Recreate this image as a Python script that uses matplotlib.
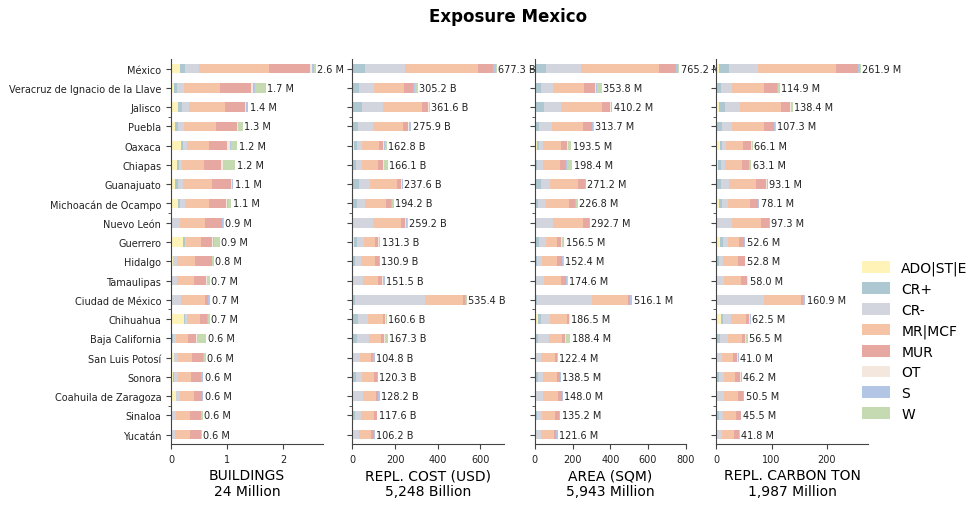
import matplotlib
matplotlib.use("Agg")
import matplotlib.pyplot as plt
import numpy as np
from matplotlib.patches import Patch

states = ["México", "Veracruz de Ignacio de la Llave", "Jalisco", "Puebla", "Oaxaca",
          "Chiapas", "Guanajuato", "Michoacán de Ocampo", "Nuevo León", "Guerrero",
          "Hidalgo", "Tamaulipas", "Ciudad de México", "Chihuahua", "Baja California",
          "San Luis Potosí", "Sonora", "Coahuila de Zaragoza", "Sinaloa", "Yucatán"]

categories = ["ADO|ST|E", "CR+", "CR-", "MR|MCF", "MUR", "OT", "S", "W"]
colors = ["#fff3b8", "#aec8d2", "#d2d5dd", "#f5c3a6", "#e8a8a2", "#f4e8de", "#b3c6e6", "#c6dab2"]

# millions of buildings per state, one list per typology
buildings = {
    "ADO|ST|E": [0.16, 0.05, 0.125, 0.07, 0.18, 0.11, 0.07, 0.125, 0.0, 0.21,
                 0.035, 0.0, 0.0, 0.23, 0.02, 0.055, 0.04, 0.09, 0.005, 0.0],
    "CR+": [0.09, 0.05, 0.07, 0.055, 0.03, 0.035, 0.055, 0.035, 0.02, 0.03,
            0.005, 0.01, 0.005, 0.025, 0.02, 0.005, 0.02, 0.0, 0.02, 0.005],
    "CR-": [0.25, 0.125, 0.125, 0.11, 0.08, 0.055, 0.09, 0.09, 0.14, 0.035,
            0.07, 0.095, 0.17, 0.03, 0.055, 0.07, 0.065, 0.07, 0.055, 0.07],
    "MR|MCF": [1.25, 0.64, 0.64, 0.57, 0.39, 0.39, 0.52, 0.43, 0.45, 0.26,
               0.32, 0.30, 0.43, 0.23, 0.21, 0.25, 0.23, 0.25, 0.25, 0.27],
    "MUR": [0.73, 0.55, 0.36, 0.36, 0.32, 0.30, 0.34, 0.30, 0.30, 0.20,
            0.29, 0.21, 0.055, 0.125, 0.14, 0.18, 0.18, 0.14, 0.20, 0.18],
    "OT": [0.02, 0.035, 0.02, 0.02, 0.05, 0.035, 0.01, 0.02, 0.005, 0.02,
           0.005, 0.02, 0.005, 0.005, 0.02, 0.005, 0.005, 0.005, 0.005, 0.005],
    "S": [0.05, 0.035, 0.03, 0.01, 0.02, 0.005, 0.025, 0.01, 0.005, 0.005,
          0.0, 0.0, 0.035, 0.005, 0.0, 0.02, 0.035, 0.02, 0.005, 0.0],
    "W": [0.02, 0.2, 0.005, 0.08, 0.11, 0.21, 0.0, 0.06, 0.015, 0.105,
          0.035, 0.055, 0.0, 0.035, 0.16, 0.035, 0.0, 0.0, 0.02, 0.02],
}
buildings_total = [2.6, 1.7, 1.4, 1.3, 1.2, 1.2, 1.1, 1.1, 0.9, 0.9,
                   0.8, 0.7, 0.7, 0.7, 0.6, 0.6, 0.6, 0.6, 0.6, 0.6]

# replacement cost, billions of USD
cost = {
    "ADO|ST|E": [4, 0.5, 0.5, 0.5, 6, 0.5, 0.5, 0.5, 0, 6,
                 0, 0, 0, 4.6, 0.5, 0, 0, 0, 0, 0],
    "CR+": [55, 32, 46, 26, 15, 17, 31, 21.5, 1, 15,
            12, 1, 12.2, 21.5, 21.5, 1, 17, 0.5, 12, 1],
    "CR-": [187, 67, 95, 70.7, 24, 27.7, 51, 37, 96, 33.2,
            28, 49, 330, 47, 55, 35, 27.7, 49, 27.7, 30],
    "MR|MCF": [345, 142, 186, 138, 78, 75, 124.5, 97.5, 129, 54,
               65, 72.5, 175, 72, 58, 49.8, 56, 60, 61, 55.6],
    "MUR": [66, 41.5, 28.5, 27.7, 23, 23, 23, 23, 23, 14,
            18.5, 18.5, 9.5, 9, 14, 9, 14, 9, 14, 14],
    "OT": [2, 3, 1, 1, 4.6, 3, 1, 1, 1, 3,
           1, 1, 0.5, 4.6, 4.6, 0.5, 0.5, 1, 0.5, 0.5],
    "S": [14, 6, 4.6, 9, 1.5, 3, 6, 6, 4.6, 1.5,
          4.6, 9, 7.7, 1, 1.5, 9, 4.6, 9, 1.5, 4.6],
    "W": [4.3, 14, 1, 3, 10.8, 17, 0.5, 7.7, 4.6, 4.6,
          1, 0.5, 0.5, 1, 12.3, 0.5, 0.5, 0, 1, 0.5],
}
cost_total = [677.3, 305.2, 361.6, 275.9, 162.8, 166.1, 237.6, 194.2, 259.2, 131.3,
              130.9, 151.5, 535.4, 160.6, 167.3, 104.8, 120.3, 128.2, 117.6, 106.2]

# built area, millions of square metres
area = {
    "ADO|ST|E": [7, 0.5, 7, 1, 10, 1, 1, 1, 0, 9,
                 0, 0, 0, 17.7, 0, 0, 0, 1, 0, 0],
    "CR+": [51, 33.6, 42.5, 23, 10.6, 12, 33.6, 17.7, 1, 14,
            12, 1, 12, 16, 17.7, 0.5, 17.7, 0.5, 12, 1],
    "CR-": [186, 64, 90, 69, 21, 32, 48, 42.5, 97, 37,
            26.5, 49.6, 290.4, 48, 58, 33.6, 26.5, 44, 26.5, 33.6],
    "MR|MCF": [414.6, 165, 219, 163.7, 97.9, 88.9, 144.6, 121.6, 155.7, 58.9,
               80, 86, 191, 88.7, 71.2, 70.7, 73.3, 78.5, 69, 65.9],
    "MUR": [90, 58, 42.5, 48, 32, 32, 37, 32, 32, 21,
            26.5, 26.5, 10.6, 10.6, 16, 10.6, 16, 21, 21, 10.6],
    "OT": [1, 5, 1, 1, 5, 1, 1, 1, 1, 5,
           1, 5, 1, 3.5, 3.5, 1, 1, 1, 1, 1],
    "S": [10.6, 1, 7, 3, 1, 5, 5, 2, 5, 1,
          1.5, 1.5, 10.6, 1, 1, 1, 3.5, 2, 5, 9],
    "W": [5, 26.5, 1, 5, 16, 26.5, 1, 9, 1, 10.6,
          5, 5, 0.5, 1, 21, 5, 0.5, 0, 0.5, 0.5],
}
area_total = [765.2, 353.8, 410.2, 313.7, 193.5, 198.4, 271.2, 226.8, 292.7, 156.5,
              152.4, 174.6, 516.1, 186.5, 188.4, 122.4, 138.5, 148.0, 135.2, 121.6]

# replacement embodied carbon, millions of tons
carbon = {
    "ADO|ST|E": [4.2, 0.5, 4.2, 0.5, 6.6, 3, 0.5, 4.2, 0, 6.6,
                 0.3, 0, 0, 8.4, 0, 0.6, 0, 0.6, 0, 0],
    "CR+": [18.6, 8.4, 11.4, 10.2, 3.6, 5.4, 8.4, 6, 0.5, 4.8,
            4.2, 0.3, 1.8, 3, 6.6, 0.3, 4.8, 0.3, 4.8, 0.3],
    "CR-": [52, 19.8, 27, 18, 7.2, 7.2, 14.4, 10.8, 28.2, 9.6,
            7.8, 13.8, 84, 15, 14.4, 10.2, 9, 13.8, 7.2, 10.2],
    "MR|MCF": [141.6, 57.4, 73.8, 57.8, 30.6, 31, 49.1, 39.6, 51.5, 19.8,
               27, 31.3, 67.3, 28, 26.2, 19.8, 20.7, 25.2, 23.4, 21.6],
    "MUR": [39.6, 23.4, 18, 18, 14.4, 12.6, 18, 14.4, 14.4, 9,
            12.6, 10.8, 3.6, 5.4, 5.4, 7.2, 9, 9, 9, 9],
    "OT": [0.5, 1.2, 0.6, 0.5, 1.8, 0.6, 0.6, 0.6, 0.6, 0.6,
           0.3, 1.2, 0.3, 0.6, 0.6, 0.6, 0.6, 0.3, 0.3, 0.3],
    "S": [3.6, 0.6, 0.6, 1.8, 0.3, 0.3, 1.8, 1.8, 1.8, 1.8,
          0.3, 0.3, 3.6, 1.8, 0.3, 1.8, 1.8, 1.2, 0.6, 0.3],
    "W": [1.8, 3.6, 3, 0.5, 1.8, 3, 0.3, 0.5, 0.3, 0.3,
          0.3, 0.3, 0.3, 0.3, 3, 0.3, 0.3, 0, 0.3, 0.3],
}
carbon_total = [261.9, 114.9, 138.4, 107.3, 66.1, 63.1, 93.1, 78.1, 97.3, 52.6,
                52.8, 58.0, 160.9, 62.5, 56.5, 41.0, 46.2, 50.5, 45.5, 41.8]

panels = [
    (buildings, buildings_total, "M", "BUILDINGS\n24 Million"),
    (cost, cost_total, "B", "REPL. COST (USD)\n5,248 Billion"),
    (area, area_total, "M", "AREA (SQM)\n5,943 Million"),
    (carbon, carbon_total, "M", "REPL. CARBON TON\n1,987 Million"),
]

plt.rcParams["font.family"] = "DejaVu Sans"
plt.rcParams["axes.edgecolor"] = "#444444"
plt.rcParams["xtick.color"] = "#444444"
plt.rcParams["ytick.color"] = "#444444"

fig = plt.figure(figsize=(9.79, 5.10), dpi=100)
lefts = [0.1747, 0.3599, 0.5462, 0.7317]
y = np.arange(len(states))

for i, (data, totals, unit, label) in enumerate(panels):
    ax = fig.add_axes([lefts[i], 0.1269, 0.155, 0.7555])
    left = np.zeros(len(states))
    for cat, col in zip(categories, colors):
        vals = np.array(data[cat], dtype=float)
        ax.barh(y, vals, left=left, height=0.5, color=col, label=cat)
        left += vals
    for yy, x, t in zip(y, left, totals):
        ax.annotate(f"{t:.1f} {unit}", (x, yy), xytext=(1, 0), textcoords="offset points",
                    va="center", ha="left", fontsize=7, color="#222222")
    ax.set_ylim(len(states) - 0.5, -0.5)
    ax.set_xlim(0, left.max() * 1.05)
    ax.set_yticks(y)
    ax.set_yticks([2.5, 7.5, 12.5, 17.5], minor=True)
    if i == 0:
        ax.set_yticklabels(states, fontsize=7, color="#222222")
    else:
        ax.set_yticklabels([])
    ax.tick_params(axis="y", which="major", length=3.5)
    ax.tick_params(axis="y", which="minor", length=2)
    ax.tick_params(axis="x", labelsize=7, length=3.5, labelcolor="#222222")
    ax.spines["top"].set_visible(False)
    ax.spines["right"].set_visible(False)
    ax.set_xlabel(label, fontsize=10, labelpad=3)

handles = [Patch(facecolor=c, label=n) for n, c in zip(categories, colors)]
fig.legend(handles=handles, loc="center left", bbox_to_anchor=(0.868, 0.33), frameon=False,
           fontsize=10, handlelength=2.0, handleheight=0.9, handletextpad=0.8,
           labelspacing=0.48)

fig.suptitle("Exposure Mexico", fontsize=12, fontweight="bold", x=0.519, y=0.985)

fig.savefig("out.png", dpi=100)
